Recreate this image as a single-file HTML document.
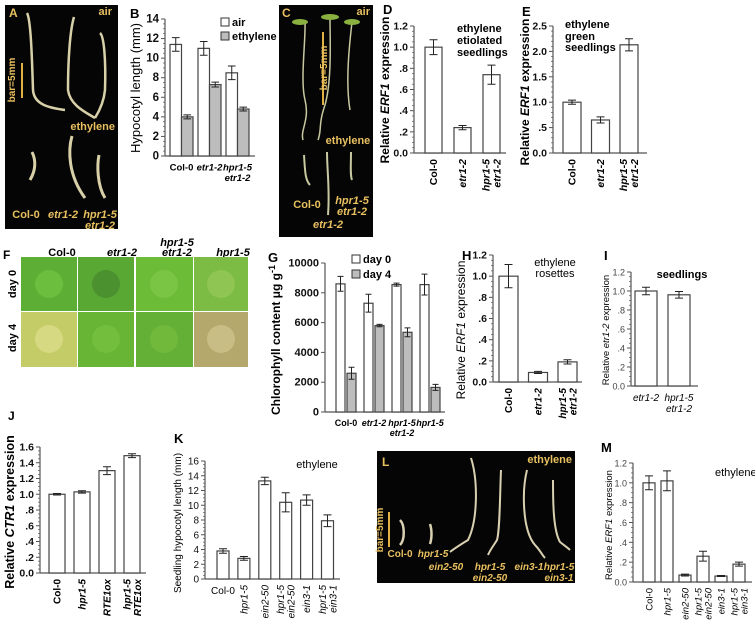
<!DOCTYPE html>
<html><head><meta charset="utf-8">
<style>
html,body{margin:0;padding:0;background:#fff;}
svg{display:block;font-family:"Liberation Sans",Arial,sans-serif;}
</style></head>
<body>
<svg id="fig" width="755" height="620" viewBox="0 0 755 620" xmlns="http://www.w3.org/2000/svg">
<g>
<rect x="5" y="5" width="113" height="224" fill="#050505"/>
<text x="9" y="17" fill="#e8c060" font-size="12" font-weight="bold">A</text>
<text x="112" y="15" fill="#e8c060" font-size="11" font-weight="bold" text-anchor="end">air</text>
<line x1="22" y1="63" x2="22" y2="98" stroke="#e0b040" stroke-width="2"/>
<text transform="translate(15,80) rotate(-90)" fill="#e8c060" font-size="10" font-weight="bold" text-anchor="middle">bar=5mm</text>
<path d="M27 13 C31 20 32 60 33 90 C34 105 50 108 65 110" stroke="#d8d0a8" stroke-width="2.5" fill="none"/>
<path d="M74 17 C70 30 68 60 68 90 C70 105 85 112 95 118" stroke="#d8d0a8" stroke-width="2.5" fill="none"/>
<path d="M100 33 C104 36 106 60 105 90 C104 100 100 110 95 118" stroke="#d8d0a8" stroke-width="2.5" fill="none"/>
<text x="115" y="130" fill="#e8c060" font-size="11" font-weight="bold" text-anchor="end">ethylene</text>
<path d="M32 152 C36 160 36 170 30 180" stroke="#d8d0a8" stroke-width="3" fill="none"/>
<path d="M72 136 C68 150 68 175 85 198" stroke="#d8d0a8" stroke-width="3" fill="none"/>
<path d="M99 155 C97 165 97 185 105 198" stroke="#d8d0a8" stroke-width="3" fill="none"/>
<text x="26" y="218" fill="#e8c060" font-size="11" font-weight="bold" text-anchor="middle">Col-0</text>
<text x="63" y="218" fill="#e8c060" font-size="11" font-weight="bold" font-style="italic" text-anchor="middle">etr1-2</text>
<text x="100" y="218" fill="#e8c060" font-size="11" font-weight="bold" font-style="italic" text-anchor="middle">hpr1-5</text>
<text x="100" y="229" fill="#e8c060" font-size="11" font-weight="bold" font-style="italic" text-anchor="middle">etr1-2</text>
</g>
<g>
<rect x="279" y="5" width="94" height="232" fill="#050505"/>
<text x="282" y="17" fill="#e8c060" font-size="12" font-weight="bold">C</text>
<text x="370" y="15" fill="#e8c060" font-size="11" font-weight="bold" text-anchor="end">air</text>
<line x1="323" y1="32" x2="323" y2="105" stroke="#e0b040" stroke-width="2"/>
<text transform="translate(327,68) rotate(-90)" fill="#e8c060" font-size="10" font-weight="bold" text-anchor="middle">bar=5mm</text>
<path d="M305 20 C306 40 300 80 305 100 C310 120 300 130 303 140" stroke="#c8c8a0" stroke-width="1.5" fill="none"/>
<path d="M330 18 C330 40 332 80 325 105 C318 125 322 130 318 140" stroke="#c8c8a0" stroke-width="1.5" fill="none"/>
<path d="M352 22 C350 40 345 80 350 110" stroke="#c8c8a0" stroke-width="1.5" fill="none"/>
<ellipse cx="300" cy="22" rx="8" ry="3" fill="#8ab040"/>
<ellipse cx="330" cy="17" rx="9" ry="3" fill="#8ab040"/>
<ellipse cx="352" cy="22" rx="8" ry="3" fill="#8ab040"/>
<text x="348" y="144" fill="#e8c060" font-size="11" font-weight="bold" text-anchor="middle">ethylene</text>
<path d="M304 155 C305 170 305 180 310 185" stroke="#c8c8a0" stroke-width="2" fill="none"/>
<path d="M327 152 C327 170 330 190 328 215" stroke="#c8c8a0" stroke-width="2" fill="none"/>
<path d="M351 152 C351 165 350 175 352 180" stroke="#c8c8a0" stroke-width="2" fill="none"/>
<text x="307" y="208" fill="#e8c060" font-size="11" font-weight="bold" text-anchor="middle">Col-0</text>
<text x="352" y="204" fill="#e8c060" font-size="11" font-weight="bold" font-style="italic" text-anchor="middle">hpr1-5</text>
<text x="352" y="215" fill="#e8c060" font-size="11" font-weight="bold" font-style="italic" text-anchor="middle">etr1-2</text>
<text x="328" y="228" fill="#e8c060" font-size="11" font-weight="bold" font-style="italic" text-anchor="middle">etr1-2</text>
</g>
<g>
<text x="3" y="259" font-size="12" font-weight="bold">F</text>
<text x="62" y="256" font-size="11" font-weight="bold" text-anchor="middle">Col-0</text>
<text x="122" y="256" font-size="11" font-weight="bold" font-style="italic" text-anchor="middle">etr1-2</text>
<text x="177" y="246" font-size="11" font-weight="bold" font-style="italic" text-anchor="middle">hpr1-5</text>
<text x="177" y="256" font-size="11" font-weight="bold" font-style="italic" text-anchor="middle">etr1-2</text>
<text x="233" y="256" font-size="11" font-weight="bold" font-style="italic" text-anchor="middle">hpr1-5</text>
<text transform="translate(16,284) rotate(-90)" font-size="11" font-weight="bold" text-anchor="middle">day 0</text>
<text transform="translate(16,338) rotate(-90)" font-size="11" font-weight="bold" text-anchor="middle">day 4</text>
<rect x="21" y="257" width="56" height="54" fill="#5cae34"/>
<rect x="78" y="257" width="56" height="54" fill="#5aa834"/>
<rect x="136" y="257" width="57" height="54" fill="#6cbc38"/>
<rect x="194" y="257" width="54" height="54" fill="#7cbc44"/>
<rect x="21" y="312" width="56" height="55" fill="#c4cc68"/>
<rect x="78" y="312" width="56" height="55" fill="#68b434"/>
<rect x="136" y="312" width="57" height="55" fill="#64b036"/>
<rect x="194" y="312" width="54" height="55" fill="#b4a86c"/>
<circle cx="49" cy="284" r="14" fill="#74c444" opacity="0.7"/>
<circle cx="106" cy="284" r="14" fill="#3c7a2a" opacity="0.5"/>
<circle cx="164" cy="284" r="14" fill="#84cc4c" opacity="0.6"/>
<circle cx="221" cy="284" r="14" fill="#9ccc5c" opacity="0.6"/>
<circle cx="49" cy="339" r="14" fill="#dcdc88" opacity="0.8"/>
<circle cx="106" cy="339" r="14" fill="#7cc444" opacity="0.6"/>
<circle cx="164" cy="339" r="14" fill="#78c040" opacity="0.6"/>
<circle cx="221" cy="339" r="14" fill="#d0c890" opacity="0.7"/>
</g>
<g>
<rect x="377" y="451" width="198" height="132" fill="#050505"/>
<text x="382" y="466" fill="#e8c060" font-size="12" font-weight="bold">L</text>
<text x="572" y="463" fill="#e8c060" font-size="11" font-weight="bold" text-anchor="end">ethylene</text>
<line x1="389" y1="512" x2="389" y2="547" stroke="#e0b040" stroke-width="2"/>
<text transform="translate(383,530) rotate(-90)" fill="#e8c060" font-size="10" font-weight="bold" text-anchor="middle">bar=5mm</text>
<path d="M400 520 C405 525 405 540 400 545" stroke="#d8d0b0" stroke-width="2.5" fill="none"/>
<path d="M430 524 C432 530 432 538 430 544" stroke="#d8d0b0" stroke-width="2.5" fill="none"/>
<path d="M471 458 C478 480 478 520 468 540 C460 545 455 548 450 552" stroke="#d8d0b0" stroke-width="2" fill="none"/>
<path d="M501 470 C500 490 500 530 497 540 C494 545 490 550 488 555" stroke="#d8d0b0" stroke-width="2" fill="none"/>
<path d="M527 470 C522 490 522 530 535 545 C540 550 542 555 545 558" stroke="#d8d0b0" stroke-width="2" fill="none"/>
<path d="M553 480 C553 500 553 530 560 542 C565 546 568 548 570 550" stroke="#d8d0b0" stroke-width="2" fill="none"/>
<text x="400" y="557" fill="#e8c060" font-size="10" font-weight="bold" text-anchor="middle">Col-0</text>
<text x="433" y="557" fill="#e8c060" font-size="10" font-weight="bold" font-style="italic" text-anchor="middle">hpr1-5</text>
<text x="446" y="570" fill="#e8c060" font-size="10" font-weight="bold" font-style="italic" text-anchor="middle">ein2-50</text>
<text x="490" y="570" fill="#e8c060" font-size="10" font-weight="bold" font-style="italic" text-anchor="middle">hpr1-5</text>
<text x="490" y="581" fill="#e8c060" font-size="10" font-weight="bold" font-style="italic" text-anchor="middle">ein2-50</text>
<text x="529" y="570" fill="#e8c060" font-size="10" font-weight="bold" font-style="italic" text-anchor="middle">ein3-1</text>
<text x="559" y="570" fill="#e8c060" font-size="10" font-weight="bold" font-style="italic" text-anchor="middle">hpr1-5</text>
<text x="559" y="581" fill="#e8c060" font-size="10" font-weight="bold" font-style="italic" text-anchor="middle">ein3-1</text>
</g>
<g id="charts"></g>
</svg>
<script>
// ---- data ----
const bCats = ["Col-0","etr1-2","hpr1-5|etr1-2"];
const bAir = [11.4, 11.0, 8.5];
const bAirErr = [0.7, 0.7, 0.7];
const bEth = [4.0, 7.3, 4.8];
const bEthErr = [0.2, 0.25, 0.2];
const bTicks = [0,2,4,6,8,10,12,14];
const bTickLabels = ["0","2","4","6","8","10","12","14"];

const dCats = ["Col-0","etr1-2","hpr1-5|etr1-2"];
const dVals = [1.0, 0.24, 0.74];
const dErr = [0.07, 0.02, 0.09];
const dTicks = [0,0.2,0.4,0.6,0.8,1.0,1.2];
const dTickLabels = ["0.0",".2",".4",".6",".8","1.0","1.2"];

const eCats = ["Col-0","etr1-2","hpr1-5|etr1-2"];
const eVals = [1.0, 0.65, 2.13];
const eErr = [0.04, 0.06, 0.12];
const eTicks = [0,0.5,1.0,1.5,2.0,2.5];
const eTickLabels = ["0.0",".5","1.0","1.5","2.0","2.5"];

const gCats = ["Col-0","etr1-2","hpr1-5|etr1-2","hpr1-5"];
const gDay0 = [8600, 7300, 8550, 8550];
const gDay0Err = [500, 600, 100, 700];
const gDay4 = [2600, 5800, 5350, 1650];
const gDay4Err = [400, 80, 300, 200];
const gTicks = [0,2000,4000,6000,8000,10000];
const gTickLabels = ["0","2000","4000","6000","8000","10000"];

const hCats = ["Col-0","etr1-2","hpr1-5|etr1-2"];
const hVals = [1.0, 0.09, 0.19];
const hErr = [0.11, 0.01, 0.02];
const hTicks = [0,0.2,0.4,0.6,0.8,1.0,1.2];
const hTickLabels = ["0.0",".2",".4",".6",".8","1.0","1.2"];

const iCats = ["etr1-2","hpr1-5|etr1-2"];
const iVals = [1.0, 0.96];
const iErr = [0.04, 0.035];
const iTicks = [0,0.2,0.4,0.6,0.8,1.0,1.2];
const iTickLabels = ["0.0",".2",".4",".6",".8","1.0","1.2"];

const jCats = ["Col-0","hpr1-5","RTE1ox","hpr1-5|RTE1ox"];
const jVals = [1.0, 1.03, 1.3, 1.49];
const jErr = [0.01, 0.015, 0.05, 0.025];
const jTicks = [0,0.2,0.4,0.6,0.8,1.0,1.2,1.4,1.6];
const jTickLabels = ["0.0",".2",".4",".6",".8","1.0","1.2","1.4","1.6"];

const kCats = ["Col-0","hpr1-5","ein2-50","hpr1-5|ein2-50","ein3-1","hpr1-5|ein3-1"];
const kVals = [3.8, 2.8, 13.3, 10.4, 10.7, 7.9];
const kErr = [0.3, 0.25, 0.5, 1.3, 0.7, 0.8];
const kTicks = [0,2,4,6,8,10,12,14,16];
const kTickLabels = ["0","2","4","6","8","10","12","14","16"];

const mCats = ["Col-0","hpr1-5","ein2-50","hpr1-5|ein2-50","ein3-1","hpr1-5|ein3-1"];
const mVals = [1.0, 1.02, 0.07, 0.26, 0.06, 0.18];
const mErr = [0.07, 0.1, 0.01, 0.05, 0.005, 0.02];
const mTicks = [0,0.2,0.4,0.6,0.8,1.0,1.2];
const mTickLabels = ["0.0",".2",".4",".6",".8","1.0","1.2"];

const NS = "http://www.w3.org/2000/svg";
const root = document.getElementById('charts');
function mk(tag, attrs, parent, text){
  const e = document.createElementNS(NS, tag);
  for (const k in attrs) e.setAttribute(k, attrs[k]);
  if (text !== undefined) e.textContent = text;
  parent.appendChild(e);
  return e;
}
function chart(o){
  const g = mk('g', {}, root);
  
  
  const ys = v => o.y0 - (v / o.max) * (o.y0 - o.yTop);
  const fw = o.bold ? 'bold' : 'normal';
  const ya = mk('line', {x1:o.x0, y1:o.yTop, x2:o.x0, y2:o.y0, stroke:'#555', 'stroke-width':1.2}, g);
  
  
  const xa = mk('line', {x1:o.x0, y1:o.y0, x2:o.xEnd, y2:o.y0, stroke:'#555', 'stroke-width':1.2}, g);
  
  
  o.ticks.forEach((t, i) => {
    const y = ys(t);
    mk('line', {x1:o.x0-4, y1:y, x2:o.x0, y2:y, stroke:'#555', 'stroke-width':1}, g);
    const tl = mk('text', {x:o.x0-6, y:y+3.5, 'font-size':o.tfs, 'font-weight':fw, 'text-anchor':'end', fill:o.tcol||'#111'}, g, o.tickLabels[i]);
    
    
    if (i < o.ticks.length - 1) {
      const n = o.minor;
      for (let k = 1; k < n; k++) {
        const ym = ys(t + (o.ticks[i+1]-t) * k / n);
        mk('line', {x1:o.x0-2, y1:ym, x2:o.x0, y2:ym, stroke:'#555', 'stroke-width':0.7}, g);
      }
    }
  });
  const nS = o.series.length;
  const sOff = o.sOff || o.barW;
  o.cats.forEach((c, i) => {
    o.series.forEach((s, si) => {
      const x = o.start + i*o.step + si*sOff;
      const v = s.vals[i], e = s.err[i];
      const b = mk('rect', {x:x, y:ys(v), width:o.barW, height:o.y0-ys(v), fill:s.fill, stroke:'#444', 'stroke-width':1.2}, g);
      
      
      const cx = x + o.barW/2;
      const w = Math.min(4, o.barW/3);
      mk('path', {d:`M${cx} ${ys(v+e)}V${ys(v-e)}M${cx-w} ${ys(v+e)}H${cx+w}M${cx-w} ${ys(v-e)}H${cx+w}`, stroke:'#222', 'stroke-width':1, fill:'none'}, g);
    });
    const cx = o.start + i*o.step + (nS*sOff - (sOff-o.barW))/2;
    const lines = c.split('|');
    lines.forEach((ln, li) => {
      const it = ln === 'Col-0' ? 'normal' : 'italic';
      let t;
      if (o.rot && !(o.colFlat && ln === 'Col-0')) {
        const dx = (li - (lines.length-1)/2) * (o.cfs + 0.5);
        t = mk('text', {transform:`translate(${cx+dx+o.cfs*0.35},${o.y0+6}) rotate(-90)`, 'font-size':o.cfs, 'font-weight':fw, 'font-style':it, 'text-anchor':'end'}, g, ln);
      } else {
        t = mk('text', {x:cx, y:o.y0+o.cfs+5+li*(o.cfs+1), 'font-size':o.cfs, 'font-weight':fw, 'font-style':it, 'text-anchor':'middle'}, g, ln);
      }
      
      
    });
  });
}

chart({name:'panel-b-chart', key:'b', x0:165, y0:156, yTop:19, max:14, xEnd:255, ticks:bTicks, tickLabels:bTickLabels, minor:4, tfs:11.5, bold:true, cats:bCats, start:170, step:28, barW:11.5, series:[{vals:bAir, err:bAirErr, fill:'#fff'},{vals:bEth, err:bEthErr, fill:'#bdbdbd'}], cfs:9.5});
chart({name:'panel-d-chart', key:'d', x0:414, y0:153, yTop:26, max:1.2, xEnd:506, ticks:dTicks, tickLabels:dTickLabels, minor:4, tfs:10.5, bold:true, cats:dCats, start:425, step:29, barW:17, series:[{vals:dVals, err:dErr, fill:'#fff'}], cfs:10.5, rot:true});
chart({name:'panel-e-chart', key:'e', x0:553, y0:153, yTop:26, max:2.5, xEnd:647, ticks:eTicks, tickLabels:eTickLabels, minor:5, tfs:10.5, bold:true, cats:eCats, start:563, step:28.5, barW:18, series:[{vals:eVals, err:eErr, fill:'#fff'}], cfs:10.5, rot:true});
chart({name:'panel-g-chart', key:'g', x0:325, y0:412, yTop:263, max:10000, xEnd:445, ticks:gTicks, tickLabels:gTickLabels, minor:1, tfs:11, bold:true, cats:gCats, start:336, step:28, barW:9, sOff:11, series:[{vals:gDay0, err:gDay0Err, fill:'#fff'},{vals:gDay4, err:gDay4Err, fill:'#bdbdbd'}], cfs:9});
chart({name:'panel-h-chart', key:'h', x0:493, y0:382, yTop:255, max:1.2, xEnd:582, ticks:hTicks, tickLabels:hTickLabels, minor:4, tfs:10.5, bold:true, cats:hCats, start:499, step:29.5, barW:19, series:[{vals:hVals, err:hErr, fill:'#fff'}], cfs:10, rot:true});
chart({name:'panel-i-chart', key:'i', x0:631, y0:386, yTop:272, max:1.2, xEnd:698, ticks:iTicks, tickLabels:iTickLabels, minor:4, tfs:9, bold:false, tcol:'#444', cats:iCats, start:635, step:33, barW:22, series:[{vals:iVals, err:iErr, fill:'#fff'}], cfs:10});
chart({name:'panel-j-chart', key:'j', x0:40, y0:573, yTop:447, max:1.6, xEnd:146, ticks:jTicks, tickLabels:jTickLabels, minor:4, tfs:10.5, bold:true, cats:jCats, start:49, step:25, barW:16, series:[{vals:jVals, err:jErr, fill:'#fff'}], cfs:10, rot:true});
chart({name:'panel-k-chart', key:'k', x0:205, y0:579, yTop:461, max:16, xEnd:340, ticks:kTicks, tickLabels:kTickLabels, minor:4, tfs:10, bold:false, cats:kCats, start:217, step:20.9, barW:12, series:[{vals:kVals, err:kErr, fill:'#fff'}], cfs:10, rot:true, colFlat:true});
chart({name:'panel-m-chart', key:'m', x0:633, y0:582, yTop:463, max:1.2, xEnd:752, ticks:mTicks, tickLabels:mTickLabels, minor:4, tfs:9, bold:false, tcol:'#444', cats:mCats, start:643, step:18, barW:12, series:[{vals:mVals, err:mErr, fill:'#fff'}], cfs:9.5, rot:true});
</script>
<script>
(function(){
  const s = document.getElementById('fig');
  const NS2 = "http://www.w3.org/2000/svg";
  function t(x,y,txt,o){
    const e = document.createElementNS(NS2,'text');
    e.setAttribute('x',x); e.setAttribute('y',y);
    e.setAttribute('font-size',o.fs||11);
    e.setAttribute('font-weight',o.fw||'bold');
    e.setAttribute('text-anchor',o.a||'start');
    if (o.rot) e.setAttribute('transform',`rotate(-90 ${x} ${y})`);
    e.innerHTML = txt;
    
    
    s.appendChild(e);
  }
  t(130,18,'B',{fs:13,n:'panel-b-letter'});
  t(140,88,'Hypocotyl length (mm)',{fs:13,fw:'normal',a:'middle',rot:1,n:'b-y-axis-title'});
  t(383,14,'D',{fs:13,n:'panel-d-letter'});
  t(389,90,'Relative <tspan font-style="italic">ERF1</tspan> expression',{fs:12,a:'middle',rot:1,n:'d-y-axis-title'});
  t(457,32,'ethylene',{fs:11,n:'d-annotation'});
  t(457,44,'etiolated',{fs:11,n:'d-annotation'});
  t(457,56,'seedlings',{fs:11,n:'d-annotation'});
  t(522,16,'E',{fs:13,n:'panel-e-letter'});
  t(529,92,'Relative <tspan font-style="italic">ERF1</tspan> expression',{fs:12,a:'middle',rot:1,n:'e-y-axis-title'});
  t(565,28,'ethylene',{fs:11,n:'e-annotation'});
  t(565,40,'green',{fs:11,n:'e-annotation'});
  t(565,51,'seedlings',{fs:11,n:'e-annotation'});
  t(268,262,'G',{fs:13,n:'panel-g-letter'});
  t(280,340,'Chlorophyll content μg g<tspan dy="-5" font-size="9">-1</tspan>',{fs:12,a:'middle',rot:1,n:'g-y-axis-title'});
  t(462,260,'H',{fs:13,n:'panel-h-letter'});
  t(465,330,'Relative <tspan font-style="italic">ERF1</tspan> expression',{fs:12,fw:'normal',a:'middle',rot:1,n:'h-y-axis-title'});
  t(555,266,'ethylene',{fs:11,fw:'normal',a:'middle',n:'h-annotation'});
  t(555,277,'rosettes',{fs:11,fw:'normal',a:'middle',n:'h-annotation'});
  t(604,260,'I',{fs:13,n:'panel-i-letter'});
  t(609,330,'Relative <tspan font-style="italic">etr1-2</tspan> expression',{fs:9.5,fw:'normal',a:'middle',rot:1,n:'i-y-axis-title'});
  t(682,278,'seedlings',{fs:11,a:'middle',n:'i-annotation'});
  t(8,420,'J',{fs:12,n:'panel-j-letter'});
  t(14,512,'Relative <tspan font-style="italic">CTR1</tspan> expression',{fs:12.5,a:'middle',rot:1,n:'j-y-axis-title'});
  t(174,443,'K',{fs:13,n:'panel-k-letter'});
  t(181,523,'Seedling hypocotyl length (mm)',{fs:10,fw:'normal',a:'middle',rot:1,n:'k-y-axis-title'});
  t(317,468,'ethylene',{fs:11,fw:'normal',a:'middle',n:'k-annotation'});
  t(601,452,'M',{fs:13,n:'panel-m-letter'});
  t(612,525,'Relative <tspan font-style="italic">ERF1</tspan> expression',{fs:9.5,fw:'normal',a:'middle',rot:1,n:'m-y-axis-title'});
  t(715,476,'ethylene',{fs:11,fw:'normal',n:'m-annotation'});
  function sq(x,y,f,n){
    const r = document.createElementNS(NS2,'rect');
    r.setAttribute('x',x); r.setAttribute('y',y); r.setAttribute('width',8); r.setAttribute('height',8);
    r.setAttribute('fill',f); r.setAttribute('stroke','#333');
    
    
    s.appendChild(r);
  }
  sq(221,18,'#fff','legend-air-swatch'); t(232,26,'air',{fs:11,n:'legend-air'});
  sq(221,32,'#bdbdbd','legend-ethylene-swatch'); t(232,40,'ethylene',{fs:11,n:'legend-ethylene'});
  sq(352,255,'#fff','legend-day0-swatch'); t(363,263,'day 0',{fs:11,n:'legend-day0'});
  sq(352,270,'#bdbdbd','legend-day4-swatch'); t(363,278,'day 4',{fs:11,n:'legend-day4'});
})();
</script>
</body></html>
